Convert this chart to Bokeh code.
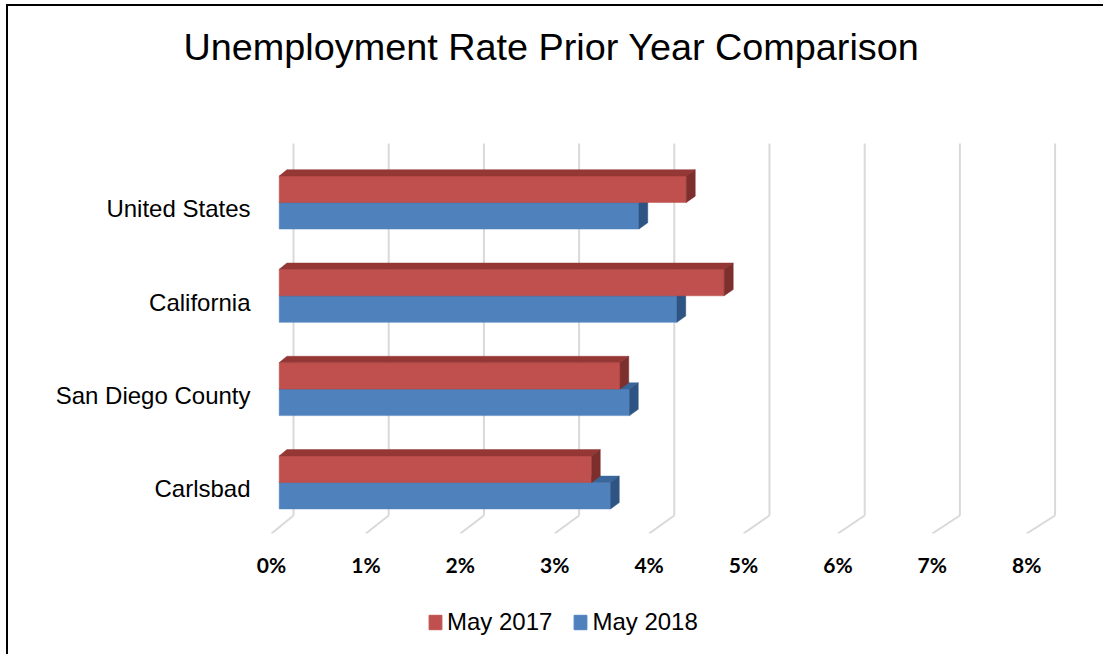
from bokeh.plotting import figure
from bokeh.layouts import column
from bokeh.models import FixedTicker, Range1d, Legend, LegendItem
from bokeh.embed import file_html
from bokeh.resources import INLINE

# ---------------- data ----------------
categories = ["United States", "California", "San Diego County", "Carlsbad"]
may_2017 = [4.3, 4.7, 3.6, 3.3]
may_2018 = [3.8, 4.2, 3.7, 3.5]
series_names = ["May 2017", "May 2018"]
x_ticks = [0, 1, 2, 3, 4, 5, 6, 7, 8]
x_tick_labels = ["0%", "1%", "2%", "3%", "4%", "5%", "6%", "7%", "8%"]
chart_title = "Unemployment Rate Prior Year Comparison"

# ---------------- style / layout ----------------
RED, RED_TOP, RED_SIDE = "#C0504D", "#953735", "#7D2F2D"
BLUE, BLUE_TOP, BLUE_SIDE = "#4F81BD", "#3A6699", "#2E5483"
GRID = "#D9D9D9"

W, H = 1103, 654
OX, OY = 8, 6                      # canvas origin inside the page border
MAIN_B = 596                       # page y where the chart canvas ends
PX_X, PX_Y = 94.4, 93.3            # pixels per percent / per category step
FRAME_L, FRAME_R, FRAME_T, FRAME_B = 262, 1069, 130, 533
ZERO_PX = 271
X0 = (FRAME_L - ZERO_PX) / PX_X
X1 = X0 + (FRAME_R - FRAME_L) / PX_X
Y0 = -0.48
Y1 = Y0 + (FRAME_B - FRAME_T) / PX_Y

DEPTH_X = 22 / PX_X                # back wall shift (percent units)
DEPTH_Y = 18 / PX_Y                # back wall shift (category units)
PERSP = 95.2 / 94.4 - 1            # slight perspective widening toward the back
WALL_Y0, WALL_Y1 = Y0, 3.507
T_F, T_B = 0.35, 0.70              # bar front / back depth fractions
BAR_H = 26.5 / PX_Y


def px(v, t):
    return v * (1 + t * PERSP) + t * DEPTH_X


def py(y, t):
    return y + t * DEPTH_Y


def blank_fig(height):
    f = figure(width=W - OX, height=height, x_range=Range1d(0, 1), y_range=Range1d(0, 1),
               output_backend="svg", toolbar_location=None,
               x_axis_location=None, y_axis_location=None,
               min_border_left=0, min_border_right=0, min_border_top=0, min_border_bottom=0)
    f.background_fill_color = "white"
    f.border_fill_color = "white"
    f.outline_line_color = None
    f.xgrid.visible = False
    f.ygrid.visible = False
    return f


ypos = [len(categories) - 1 - i for i in range(len(categories))]

# ---------------- title strip ----------------
pt = blank_fig(FRAME_T - OY)
pt.title.text = chart_title
pt.title.text_font = "Liberation Sans"
pt.title.text_font_size = "37.8px"
pt.title.text_font_style = "normal"
pt.title.text_color = "black"
pt.title.align = "left"
pt.title.vertical_align = "bottom"
pt.title.offset = -79
pt.title.standoff = 34

# ---------------- main chart ----------------
p = figure(width=W - OX, height=MAIN_B - FRAME_T,
           x_range=Range1d(X0, X1), y_range=Range1d(Y0, Y1),
           output_backend="svg", toolbar_location=None,
           min_border_left=FRAME_L - OX, min_border_right=W - FRAME_R,
           min_border_top=0, min_border_bottom=MAIN_B - FRAME_B)
p.background_fill_color = "white"
p.border_fill_color = "white"
p.outline_line_color = None
p.xgrid.visible = False
p.ygrid.visible = False

# gridlines: back wall verticals + floor diagonals
gx_v, gy_v, gx_d, gy_d = [], [], [], []
for k in x_ticks:
    xb = px(k, 1.0)
    gx_v.append([xb, xb])
    gy_v.append([py(WALL_Y0, 1.0), py(WALL_Y1, 1.0)])
    gx_d.append([k, xb])
    gy_d.append([WALL_Y0, py(WALL_Y0, 1.0)])
p.multi_line(gx_v, gy_v, line_color=GRID, line_width=2)
p.multi_line(gx_d, gy_d, line_color=GRID, line_width=2)


def draw_series(vals, offs_lo, offs_hi, front, top, side):
    lefts = [px(0, T_F) for v in vals]
    rights = [px(v, T_F) for v in vals]
    bottoms = [py(c + offs_lo, T_F) for c in ypos]
    tops = [py(c + offs_hi, T_F) for c in ypos]
    p.quad(left=lefts, right=rights, bottom=bottoms, top=tops,
           fill_color=front, line_color=front, line_width=0.5)
    txs, tys, sxs, sys_ = [], [], [], []
    for v, c in zip(vals, ypos):
        yl, yh = c + offs_lo, c + offs_hi
        txs.append([px(0, T_F), px(v, T_F), px(v, T_B), px(0, T_B)])
        tys.append([py(yh, T_F), py(yh, T_F), py(yh, T_B), py(yh, T_B)])
        sxs.append([px(v, T_F), px(v, T_F), px(v, T_B), px(v, T_B)])
        sys_.append([py(yl, T_F), py(yh, T_F), py(yh, T_B), py(yl, T_B)])
    p.patches(txs, tys, fill_color=top, line_color=top, line_width=0.5)
    p.patches(sxs, sys_, fill_color=side, line_color=side, line_width=0.5)


draw_series(may_2018, -BAR_H, 0.0, BLUE, BLUE_TOP, BLUE_SIDE)
draw_series(may_2017, 0.0, BAR_H, RED, RED_TOP, RED_SIDE)

# x axis
xa = p.xaxis[0]
xa.ticker = FixedTicker(ticks=x_ticks)
xa.major_label_overrides = {t: l for t, l in zip(x_ticks, x_tick_labels)}
xa.axis_line_color = None
xa.major_tick_line_color = None
xa.minor_tick_line_color = None
xa.major_tick_out = 0
xa.major_tick_in = 0
xa.major_label_standoff = 18
xa.major_label_text_font = "Lato"
xa.major_label_text_font_style = "bold"
xa.major_label_text_font_size = "21px"
xa.major_label_text_color = "black"

# y axis
ya = p.yaxis[0]
ya.ticker = FixedTicker(ticks=ypos)
ya.major_label_overrides = {y: c for y, c in zip(ypos, categories)}
ya.axis_line_color = None
ya.major_tick_line_color = None
ya.minor_tick_line_color = None
ya.major_tick_out = 0
ya.major_tick_in = 0
ya.major_label_standoff = 12
ya.major_label_text_font = "Liberation Sans"
ya.major_label_text_font_size = "24px"
ya.major_label_text_color = "black"

# ---------------- legend strip ----------------
pl = blank_fig(H - MAIN_B)
# legend proxies (hidden; only their legend swatches are shown)
r_red = pl.quad(left=[0] * len(may_2017), right=may_2017, top=ypos, bottom=ypos,
                fill_color=RED, line_color=RED, visible=False)
r_blue = pl.quad(left=[0] * len(may_2018), right=may_2018, top=ypos, bottom=ypos,
                 fill_color=BLUE, line_color=BLUE, visible=False)
legend = Legend(items=[LegendItem(label=series_names[0], renderers=[r_red]),
                       LegendItem(label=series_names[1], renderers=[r_blue])],
                orientation="horizontal", location=(165, 18),
                glyph_width=16, glyph_height=18, label_height=18,
                label_standoff=4, spacing=20, padding=0, margin=0,
                border_line_color=None, background_fill_alpha=0,
                label_text_font="Liberation Sans", label_text_font_size="24px",
                label_text_color="black")
pl.add_layout(legend)

layout = column(pt, p, pl, spacing=0)
layout.styles = {"margin-left": "6px", "margin-top": "4px",
                 "border-left": "2px solid black", "border-top": "2px solid black"}

open("out.html", "w").write(file_html(layout, INLINE))
